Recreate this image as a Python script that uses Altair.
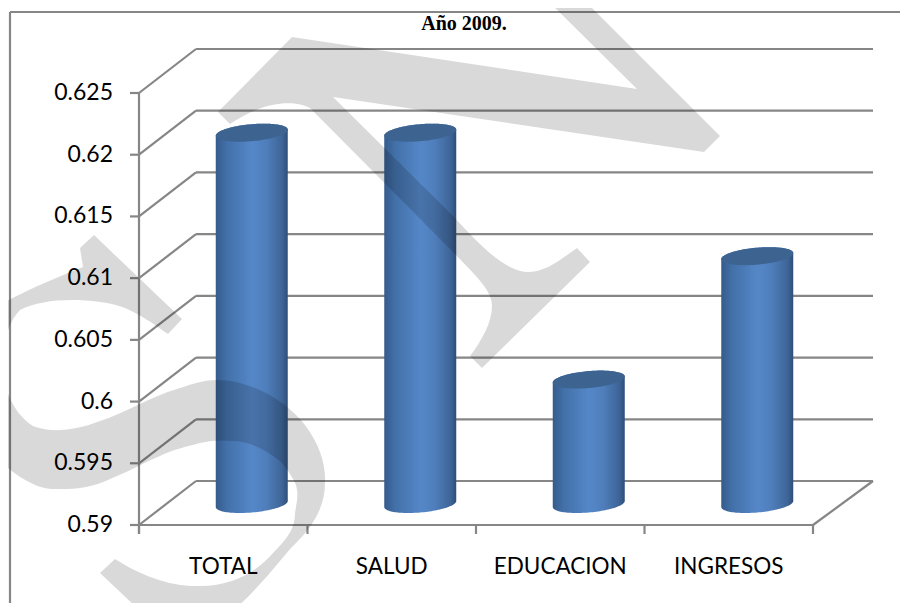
import math
import altair as alt
import pandas as pd

# ---------- chart values ----------
categories = ["TOTAL", "SALUD", "EDUCACION", "INGRESOS"]
values = [0.62, 0.62, 0.60, 0.61]
y_ticks = [0.59, 0.595, 0.60, 0.605, 0.61, 0.615, 0.62, 0.625]
y_tick_labels = ["0.59", "0.595", "0.6", "0.605", "0.61", "0.615", "0.62", "0.625"]
title_text = "Año 2009."

# ---------- scale geometry ----------
W, H = 892, 595
PX_X = 168.5          # pixels per category
PX_Y = 432 / 0.035    # pixels per unit of value
X0, Y0 = 139 - 8, 525 - 8   # where category 0 / value 0.59 fall inside the plot
Y_BASE = 0.59
x_dom = [-X0 / PX_X, (W - X0) / PX_X]
y_dom = [Y_BASE - (H - Y0) / PX_Y, Y_BASE + Y0 / PX_Y]


def fx(px):
    return px / PX_X


def fy(px):
    return px / PX_Y


DX, DY = fx(57), fy(44)
BACK_RIGHT = 4 + fx(60)
GRAY = "#868686"

xs = alt.Scale(domain=x_dom, nice=False, zero=False)
ys = alt.Scale(domain=y_dom, nice=False, zero=False)


def X(name="x"):
    return alt.X(f"{name}:Q", scale=xs, axis=None)


def Y(name="y"):
    return alt.Y(f"{name}:Q", scale=ys, axis=None)


def rules(rows, width=2.2, color=GRAY):
    return alt.Chart(pd.DataFrame(rows)).mark_rule(color=color, strokeWidth=width).encode(
        x=X("x"), y=Y("y"), x2="x2:Q", y2="y2:Q"
    )


# outer frame
frame = rules([
    dict(x=fx(10 - 139), x2=x_dom[1], y=Y_BASE + fy(525 - 12), y2=Y_BASE + fy(525 - 12)),
    dict(x=fx(10 - 139), x2=fx(10 - 139), y=Y_BASE + fy(525 - 12), y2=y_dom[0]),
])

# walls and grid
grid_rows = []
for v in y_ticks:
    grid_rows.append(dict(x=DX, x2=BACK_RIGHT, y=v + DY, y2=v + DY))
    grid_rows.append(dict(x=0, x2=DX, y=v, y2=v + DY))
    grid_rows.append(dict(x=fx(-9), x2=0, y=v, y2=v))
grid_rows.append(dict(x=0, x2=0, y=y_ticks[0] - fy(9), y2=y_ticks[-1]))
grid_rows.append(dict(x=0, x2=4, y=Y_BASE, y2=Y_BASE))
grid_rows.append(dict(x=4, x2=BACK_RIGHT, y=Y_BASE, y2=Y_BASE + DY))
for i in range(5):
    grid_rows.append(dict(x=i, x2=i, y=Y_BASE, y2=Y_BASE - fy(9)))
grid = rules(grid_rows)

# cylinders
A, TILT, MINOR = 36, 3, 8.5
body_rows, cap_rows = [], []
for i, (cat, val) in enumerate(zip(categories, values)):
    cx = i + 0.5 + DX / 2
    top = val + DY / 2
    base = Y_BASE + DY / 2 - fy(1)
    for k in range(61):
        t = math.pi * k / 60
        x = cx + fx(A * math.cos(t))
        tilt = fy(TILT * math.cos(t))
        minor = fy(MINOR * math.sin(t))
        body_rows.append(dict(cat=cat, x=x, y=top + tilt + minor, y2=base + tilt - minor))
        cap_rows.append(dict(cat=cat, x=x, y=top + tilt + minor, y2=top + tilt - minor))

gradient = alt.Gradient(
    gradient="linear", x1=0, x2=1, y1=0, y2=0,
    stops=[
        alt.GradientStop(color="#365B8C", offset=0),
        alt.GradientStop(color="#4270A8", offset=0.15),
        alt.GradientStop(color="#5587C8", offset=0.5),
        alt.GradientStop(color="#4F7EBB", offset=0.7),
        alt.GradientStop(color="#3E6598", offset=0.92),
        alt.GradientStop(color="#2F4E78", offset=1),
    ],
)
body = alt.Chart(pd.DataFrame(body_rows)).mark_area(color=gradient).encode(
    x=X("x"), y=Y("y"), y2="y2:Q", detail="cat:N"
)
cap = alt.Chart(pd.DataFrame(cap_rows)).mark_area(color="#3D6491").encode(
    x=X("x"), y=Y("y"), y2="y2:Q", detail="cat:N"
)

# text
font = "Lato"
y_labels = alt.Chart(pd.DataFrame({"y": y_ticks, "t": y_tick_labels, "x": [fx(-26)] * 8})).mark_text(
    align="right", baseline="middle", font=font, fontSize=23, color="#000000"
).encode(x=X("x"), y=Y("y"), text="t:N")
x_labels = alt.Chart(pd.DataFrame({
    "x": [i + 0.5 for i in range(4)], "y": [Y_BASE - fy(42)] * 4, "t": categories
})).mark_text(
    align="center", baseline="middle", font=font, fontSize=22.5, color="#000000"
).encode(x=X("x"), y=Y("y"), text="t:N")
title = alt.Chart(pd.DataFrame({"x": [fx(464 - 139)], "y": [Y_BASE + fy(525 - 30)], "t": [title_text]})).mark_text(
    align="center", baseline="alphabetic", font="Liberation Serif", fontWeight="bold", fontSize=20, color="#000000"
).encode(x=X("x"), y=Y("y"), text="t:N")

# translucent watermark, drawn as one custom symbol
WATERMARK = (
    "M292,37 L637,89 L537,-10 L574,-10 L720,136 L704,152 L333,97 L454,217 "
    "C480,245 505,272 529,272 C545,272 560,260 577,248 L590,262 L482,368 L470,356 "
    "C482,340 492,322 492,306 C492,290 475,275 454,253 L310,108 "
    "C295,100 265,100 230,124 L218,112 Z "
    "M94,235 L182,319 L168,334 C150,322 130,305 100,302 C70,298 40,300 20,310 "
    "C8,322 2,345 3,369 C3,390 15,415 33,426 C50,433 75,431 100,421 "
    "C125,413 150,397 177,389 C195,383 205,380 217,380 C250,380 285,400 305,425 "
    "C320,445 326,465 325,483 C325,505 315,525 293,546 C280,560 262,585 233,611 "
    "L225,625 L155,625 L100,573 L115,559 C140,575 170,587 200,586 "
    "C235,586 258,570 273,553 C288,538 295,528 295,513 C297,500 300,490 293,479 "
    "C285,465 280,460 270,454 C258,446 245,441 233,441 C222,440 212,440 200,443 "
    "C185,447 175,449 160,456 C145,462 132,470 117,476 C100,484 85,489 67,489 "
    "C55,489 45,490 33,484 C20,478 10,470 0,461 L-15,461 L-15,310 L0,305 "
    "C20,293 55,278 83,267 L80,248 Z"
)
mark_anchor = alt.Chart(pd.DataFrame({"x": [fx(-139)], "y": [Y_BASE + fy(525)]})).mark_point(
    shape=WATERMARK, filled=True, size=4, color="#000000", opacity=0.15, strokeWidth=0
).encode(x=X("x"), y=Y("y"))

chart = alt.layer(frame, grid, body, cap, y_labels, x_labels, title, mark_anchor).properties(
    width=W, height=H, padding=0, autosize=alt.AutoSizeParams(type="none"),
    background="#ffffff",
).configure_view(stroke=None)

chart.save("out.html", embed_options={"renderer": "svg", "actions": False})
